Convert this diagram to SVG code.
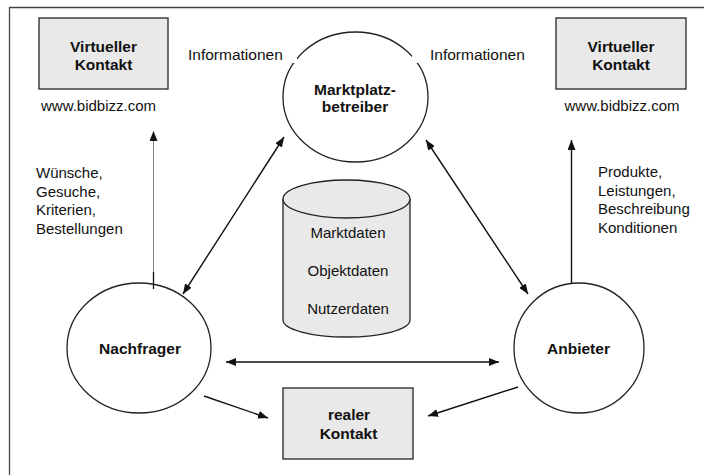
<svg xmlns="http://www.w3.org/2000/svg" width="704" height="475" viewBox="0 0 704 475">
<defs>
<marker id="ah" viewBox="0 0 10 8" refX="10" refY="4" markerWidth="10" markerHeight="8" markerUnits="userSpaceOnUse" orient="auto-start-reverse">
<path d="M0,0 L10,4 L0,8 z" fill="#111"/>
</marker>
<style>
text{font-family:"Liberation Sans",Arial,sans-serif;font-size:15px;fill:#111}
.b{font-weight:bold;font-size:15.5px}
.m{text-anchor:middle}
.i{font-size:15.5px}
.box{fill:#e9e9e9;stroke:#333;stroke-width:1.4}
.node{fill:#fff;stroke:#222;stroke-width:1.3}
.ln{fill:none;stroke:#111;stroke-width:1.4}
</style>
</defs>
<rect width="704" height="475" fill="#fff"/>
<path d="M9.5,475 V7.5 H704" fill="none" stroke="#444" stroke-width="1.3"/>

<g id="marktplatz">
<ellipse class="node" cx="355.5" cy="97" rx="72.5" ry="65"/>
<text class="b m" x="355" y="95">Marktplatz-</text>
<text class="b m" x="355" y="112">betreiber</text>
</g>

<g id="info-left">
<rect x="183" y="44" width="114" height="19" fill="#fff"/>
<text class="i" x="188" y="60">Informationen</text>
</g>
<g id="info-right">
<rect x="412" y="44" width="118" height="19" fill="#fff"/>
<text class="i" x="430" y="60">Informationen</text>
</g>

<g id="virtuell-links">
<rect class="box" x="39" y="18" width="129" height="71"/>
<text class="b m" x="103.5" y="52">Virtueller</text>
<text class="b m" x="103.5" y="70">Kontakt</text>
<text class="m" x="98.5" y="111">www.bidbizz.com</text>
</g>

<g id="virtuell-rechts">
<rect class="box" x="556" y="18" width="130" height="71"/>
<text class="b m" x="621" y="52">Virtueller</text>
<text class="b m" x="621" y="70">Kontakt</text>
<text class="m" x="622" y="111">www.bidbizz.com</text>
</g>

<g id="labels-links">
<text x="36" y="178">Wünsche,</text>
<text x="36" y="196.5">Gesuche,</text>
<text x="36" y="215">Kriterien,</text>
<text x="36" y="233.5">Bestellungen</text>
</g>

<g id="labels-rechts">
<text x="598" y="177">Produkte,</text>
<text x="598" y="195.5">Leistungen,</text>
<text x="598" y="214">Beschreibung</text>
<text x="598" y="232.5">Konditionen</text>
</g>

<g id="datenbank">
<path d="M283,199 V320 A63.5,17 0 0 0 410,320 V199" fill="#e9e9e9" stroke="#222" stroke-width="1.3"/>
<ellipse cx="346.5" cy="199" rx="63.5" ry="19" fill="#e9e9e9" stroke="#222" stroke-width="1.3"/>
<text class="m" x="348" y="238">Marktdaten</text>
<text class="m" x="348" y="276">Objektdaten</text>
<text class="m" x="348" y="314">Nutzerdaten</text>
</g>

<g id="nachfrager">
<ellipse class="node" cx="139" cy="348" rx="72" ry="65"/>
<text class="b m" x="140" y="354">Nachfrager</text>
</g>

<g id="anbieter">
<ellipse class="node" cx="579" cy="348" rx="65" ry="65"/>
<text class="b m" x="578.5" y="354">Anbieter</text>
</g>

<g id="realer-kontakt">
<rect class="box" x="283" y="388" width="130" height="71"/>
<text class="b m" x="349" y="420">realer</text>
<text class="b m" x="348.5" y="439">Kontakt</text>
</g>

<g id="connectors">
<line x1="153.5" y1="288" x2="153.5" y2="131" stroke="#777" stroke-width="0.9" marker-end="url(#ah)"/>
<line x1="153.5" y1="272" x2="153.5" y2="289" stroke="#111" stroke-width="1.3"/>
<line class="ln" x1="571.5" y1="283" x2="571.5" y2="140" marker-end="url(#ah)"/>
<line class="ln" x1="183" y1="294" x2="284" y2="137" marker-start="url(#ah)" marker-end="url(#ah)"/>
<line class="ln" x1="528" y1="294" x2="426" y2="140" marker-start="url(#ah)" marker-end="url(#ah)"/>
<line class="ln" x1="226" y1="362" x2="499" y2="362" marker-start="url(#ah)" marker-end="url(#ah)"/>
<line class="ln" x1="204" y1="396" x2="268" y2="418" marker-end="url(#ah)"/>
<line class="ln" x1="518" y1="387" x2="428" y2="416" marker-end="url(#ah)"/>
</g>
</svg>
